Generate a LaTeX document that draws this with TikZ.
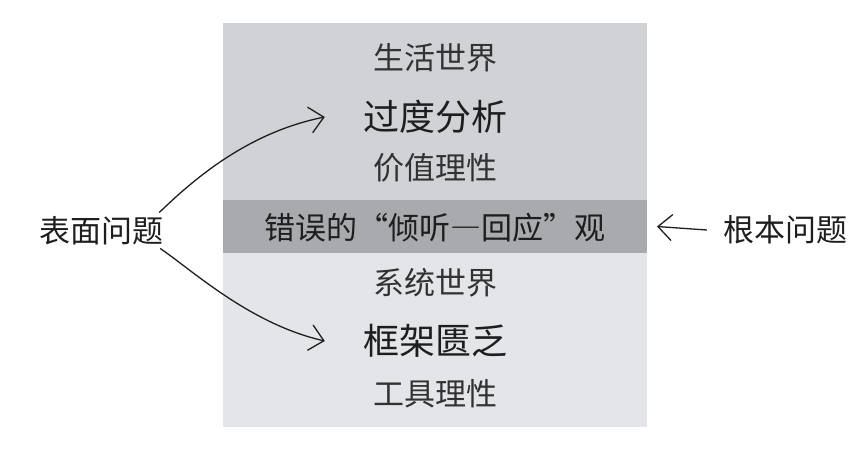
\documentclass[tikz,border=0pt]{standalone}
\usepackage{fontspec}
\newfontfamily\cjksans{Noto Sans CJK SC}
\usetikzlibrary{arrows.meta}
\definecolor{topgray}{RGB}{208,210,213}
\definecolor{bandgray}{RGB}{168,170,173}
\definecolor{botgray}{RGB}{227,229,232}
\definecolor{serifink}{RGB}{50,50,50}
\definecolor{sansink}{RGB}{30,30,30}
\tikzset{
  panel/.style={inner sep=0pt, outer sep=0pt, anchor=north west, minimum width=424pt},
  seriftext/.style={font=\cjksans\fontsize{31}{31}\selectfont, text=serifink, inner sep=0pt},
  keytext/.style={font=\cjksans\fontsize{36}{36}\selectfont, text=sansink, inner sep=0pt},
  bandtext/.style={font=\cjksans\fontsize{31}{31}\selectfont, text=sansink, inner sep=0pt},
  sidetext/.style={font=\cjksans\fontsize{31}{31}\selectfont, text=sansink, inner sep=0pt},
  conn/.style={line width=1.3pt, draw=sansink, -{Straight Barb[length=14pt,width=26pt]}}
}
\begin{document}
\begin{tikzpicture}[x=1pt,y=-1pt]
\useasboundingbox (0,0) rectangle (868,450);
\node[panel, fill=topgray, minimum height=177pt] (top) at (223,23) {};
\node[panel, fill=bandgray, minimum height=53pt] (band) at (223,200) {};
\node[panel, fill=botgray, minimum height=174pt] (bot) at (223,253) {};

\node[seriftext] (life) at (435,58) {生活世界};
\node[keytext] (over) at (435,117) {过度分析};
\node[seriftext] (value) at (435,168) {价值理性};
\node[bandtext] (wrong) at (435,228) {错误的“倾听{\addfontfeature{RawFeature=+fwid}—}回应”观};
\node[seriftext] (sys) at (435,283) {系统世界};
\node[keytext] (lack) at (435,341) {框架匮乏};
\node[seriftext] (tool) at (435,394) {工具理性};

\node[sidetext] (surface) at (101,231) {表面问题};
\node[sidetext] (root) at (785,230) {根本问题};

\coordinate (s1) at ([xshift=-4pt,yshift=4pt]surface.north east);
\coordinate (s2) at ([xshift=-3pt,yshift=-3pt]surface.south east);
\coordinate (e1) at ([xshift=-38pt]over.west);
\coordinate (e2) at ([xshift=-38pt]lack.west);
\draw[conn] (s1) .. controls (190,183) and (245,133) .. (e1);
\draw[conn] (s2) .. controls (192,270) and (250,324) .. (e2);
\draw[conn] ([xshift=-16pt]root.west) -- ([xshift=10pt]band.east);
\end{tikzpicture}
\end{document}
